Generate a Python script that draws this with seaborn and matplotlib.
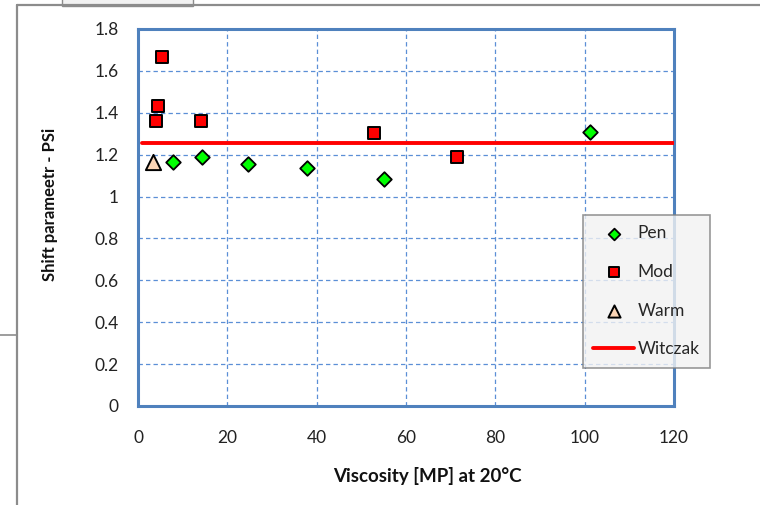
import matplotlib
matplotlib.use("Agg")
import matplotlib.pyplot as plt
from matplotlib.lines import Line2D
from matplotlib.patches import Rectangle
import seaborn as sns
import pandas as pd

# Shift parameter Psi against binder viscosity at 20 °C
pen_visc = [7.8, 14.3, 24.7, 37.8, 55.1, 101.2]
pen_psi = [1.165, 1.19, 1.156, 1.136, 1.084, 1.31]

mod_visc = [5.4, 4.55, 4.03, 14.0, 52.8, 71.4]
mod_psi = [1.668, 1.432, 1.361, 1.361, 1.302, 1.189]

warm_visc = [3.3]
warm_psi = [1.167]

witczak_visc = [1.0, 120.0]
witczak_psi = [1.255, 1.255]

x_ticks = [0, 20, 40, 60, 80, 100, 120]
y_ticks = [0, 0.2, 0.4, 0.6, 0.8, 1, 1.2, 1.4, 1.6, 1.8]
y_tick_labels = ["0", "0.2", "0.4", "0.6", "0.8", "1", "1.2", "1.4", "1.6", "1.8"]

sns.set_theme(style="white")
plt.rcParams["font.family"] = ["Lato", "DejaVu Sans"]

W, H = 760, 505
fig = plt.figure(figsize=(W / 100, H / 100), dpi=100)
fig.patch.set_facecolor("white")

# outer chart-area frame and the edge of the panel behind it
fig.add_artist(Rectangle((62 / W, 1 - 6 / H), 131 / W, 10 / H, facecolor="#f2f2f2",
                         edgecolor="#8c8c8c", lw=1.0))
fig.add_artist(Line2D([17 / W, 17 / W], [0, 1 - 5 / H], color="#8c8c8c", lw=1.6))
fig.add_artist(Line2D([17 / W, 1], [1 - 5 / H, 1 - 5 / H], color="#8c8c8c", lw=1.6))
fig.add_artist(Line2D([0, 17 / W], [1 - 335 / H, 1 - 335 / H], color="#8c8c8c", lw=1.2))

ax = fig.add_axes([138 / W, 99 / H, 536 / W, 377 / H])

pen = pd.DataFrame({"visc": pen_visc, "psi": pen_psi})
mod = pd.DataFrame({"visc": mod_visc, "psi": mod_psi})
warm = pd.DataFrame({"visc": warm_visc, "psi": warm_psi})
witczak = pd.DataFrame({"visc": witczak_visc, "psi": witczak_psi})

sns.lineplot(data=witczak, x="visc", y="psi", ax=ax, color="#ff0000",
             linewidth=2.8, label="Witczak", zorder=3)
sns.scatterplot(data=pen, x="visc", y="psi", ax=ax, marker="D", s=55,
                color="#00ff00", edgecolor="black", linewidth=1.3,
                label="Pen", zorder=4)
sns.scatterplot(data=mod, x="visc", y="psi", ax=ax, marker="s", s=80,
                color="#ff0000", edgecolor="black", linewidth=1.4,
                label="Mod", zorder=4)
sns.scatterplot(data=warm, x="visc", y="psi", ax=ax, marker="^", s=120,
                color="#fbd5b5", edgecolor="black", linewidth=1.4,
                label="Warm", zorder=4)

handles, labels = ax.get_legend_handles_labels()
if ax.get_legend() is not None:
    ax.get_legend().remove()

ax.set_xlim(0, 120)
ax.set_ylim(0, 1.8)
ax.set_xticks(x_ticks)
ax.set_xticklabels([str(t) for t in x_ticks])
ax.set_yticks(y_ticks)
ax.set_yticklabels(y_tick_labels)
ax.tick_params(axis="both", length=0, labelsize=12.5, colors="#222222")
ax.tick_params(axis="y", pad=14)
ax.tick_params(axis="x", pad=17)

ax.grid(True, color="#5b8fd6", linestyle=(0, (3.5, 2.5)), linewidth=0.9)
ax.set_axisbelow(True)
for sp in ax.spines.values():
    sp.set_visible(True)
    sp.set_color("#4f81bd")
    sp.set_linewidth(2.2)

ax.set_xlabel("Viscosity [MP] at 20°C", fontsize=13.5, fontweight="bold",
              color="#111111")
ax.xaxis.set_label_coords((427 - 138) / 536, -(476 - 406) / 377)
ax.xaxis.label.set_va("center")
ax.set_ylabel("Shift parameetr - PSi", fontsize=12, fontweight="bold",
              color="#111111")
ax.yaxis.set_label_coords(-(138 - 50) / 536, (406 - 204) / 377)
ax.yaxis.label.set_va("center")

order = [labels.index(n) for n in ["Pen", "Mod", "Warm", "Witczak"]]
leg = fig.legend([handles[i] for i in order], [labels[i] for i in order],
                 loc="upper left", bbox_to_anchor=(583 / W, 1 - 215 / H),
                 frameon=True, fancybox=False, fontsize=12.5, markerscale=0.8,
                 borderpad=0.6, labelspacing=1.3, handlelength=2.35,
                 handletextpad=0.18, borderaxespad=0)
leg.get_frame().set_facecolor("#f2f2f2")
leg.get_frame().set_edgecolor("#7f7f7f")
leg.get_frame().set_linewidth(1.2)

fig.savefig("out.png", dpi=100, facecolor="white")
